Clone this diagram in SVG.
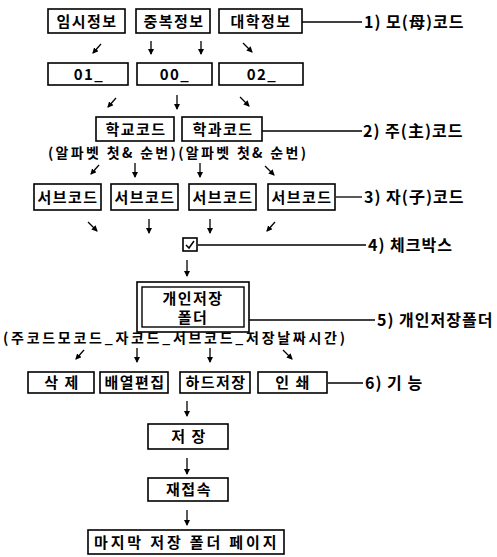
<svg xmlns="http://www.w3.org/2000/svg" width="497" height="557" viewBox="0 0 497 557">
<style>
.b{fill:#fff;stroke:#000;stroke-width:1.6}
.t{font-family:"Noto Sans CJK KR","Noto Sans",sans-serif;font-weight:bold;font-size:15px;letter-spacing:1.5px;fill:#000;text-anchor:middle}
.l{font-family:"Noto Sans CJK KR","Noto Sans",sans-serif;font-weight:bold;font-size:16px;letter-spacing:1px;fill:#000}
.s{font-family:"Noto Sans CJK KR","Noto Sans",sans-serif;font-weight:bold;font-size:14px;fill:#000}
.c{stroke:#000;stroke-width:1.3;fill:none}
.a{stroke:#000;stroke-width:1.3;fill:none;marker-end:url(#ah)}
</style>
<defs>
<marker id="ah" markerWidth="6" markerHeight="6" refX="5" refY="3" orient="auto" markerUnits="userSpaceOnUse">
<path d="M0,0 L6,3 L0,6 z" fill="#000"/>
</marker>
</defs>
<rect width="497" height="557" fill="#fff"/>
<g id="connectors">
<line class="c" x1="302" y1="22" x2="362" y2="22"/>
<line class="c" x1="262" y1="131" x2="362" y2="131"/>
<line class="c" x1="336" y1="197" x2="362" y2="197"/>
<line class="c" x1="198" y1="245" x2="366" y2="245"/>
<line class="c" x1="249" y1="320" x2="375" y2="320"/>
<line class="c" x1="328" y1="383" x2="363" y2="383"/>
<line class="a" x1="101" y1="44" x2="93" y2="53"/>
<line class="a" x1="151" y1="41" x2="151" y2="54"/>
<line class="a" x1="201" y1="41" x2="201" y2="54"/>
<line class="a" x1="243" y1="43" x2="252" y2="52"/>
<line class="a" x1="116" y1="98" x2="108" y2="107"/>
<line class="a" x1="177" y1="95" x2="177" y2="109"/>
<line class="a" x1="240" y1="97" x2="249" y2="106"/>
<line class="a" x1="99" y1="165" x2="91" y2="174"/>
<line class="a" x1="135" y1="163" x2="135" y2="177"/>
<line class="a" x1="200" y1="163" x2="200" y2="177"/>
<line class="a" x1="265" y1="166" x2="274" y2="175"/>
<line class="a" x1="88" y1="222" x2="97" y2="231"/>
<line class="a" x1="149" y1="219" x2="149" y2="233"/>
<line class="a" x1="210" y1="219" x2="210" y2="233"/>
<line class="a" x1="275" y1="222" x2="267" y2="231"/>
<line class="a" x1="187" y1="260" x2="187" y2="276"/>
<line class="a" x1="84" y1="350" x2="76" y2="359"/>
<line class="a" x1="137" y1="348" x2="137" y2="362"/>
<line class="a" x1="210" y1="348" x2="210" y2="362"/>
<line class="a" x1="283" y1="350" x2="292" y2="359"/>
<line class="a" x1="187" y1="401" x2="187" y2="416"/>
<line class="a" x1="187" y1="458" x2="187" y2="474"/>
<line class="a" x1="187" y1="510" x2="187" y2="525"/>
</g>
<g id="n-imsi"><rect class="b" x="48" y="9" width="77" height="24"/><text class="t" x="87" y="27">임시정보</text></g>
<g id="n-jungbok"><rect class="b" x="136" y="9" width="74" height="24"/><text class="t" x="174" y="27">중복정보</text></g>
<g id="n-daehak"><rect class="b" x="219" y="9" width="83" height="24"/><text class="t" x="261" y="27">대학정보</text></g>
<text class="l" x="364" y="28">1) 모(母)코드</text>
<g id="n-01"><rect class="b" x="48" y="63" width="80" height="22"/><text class="t" x="89" y="80">01_</text></g>
<g id="n-00"><rect class="b" x="137" y="63" width="75" height="22"/><text class="t" x="175" y="80">00_</text></g>
<g id="n-02"><rect class="b" x="219" y="63" width="84" height="22"/><text class="t" x="262" y="80">02_</text></g>
<g id="n-hakgyo"><rect class="b" x="96" y="117" width="78" height="24"/><text class="t" x="136" y="135">학교코드</text></g>
<g id="n-hakgwa"><rect class="b" x="182" y="117" width="80" height="24"/><text class="t" x="223" y="135">학과코드</text></g>
<text class="l" x="363" y="137">2) 주(主)코드</text>
<text class="s" x="48" y="158" textLength="258" lengthAdjust="spacing">(알파벳 첫&amp; 순번)(알파벳 첫&amp; 순번)</text>
<g id="n-sub1"><rect class="b" x="34" y="184" width="67" height="26"/><text class="t" x="68" y="203">서브코드</text></g>
<g id="n-sub2"><rect class="b" x="111" y="184" width="67" height="26"/><text class="t" x="145" y="203">서브코드</text></g>
<g id="n-sub3"><rect class="b" x="189" y="184" width="67" height="26"/><text class="t" x="223" y="203">서브코드</text></g>
<g id="n-sub4"><rect class="b" x="268" y="184" width="67" height="26"/><text class="t" x="302" y="203">서브코드</text></g>
<text class="l" x="364" y="203">3) 자(子)코드</text>
<g id="n-check"><rect class="b" x="183" y="238" width="14" height="13" stroke-width="1.2"/><path d="M186,245 L189,248 L194,241" fill="none" stroke="#000" stroke-width="1.5"/></g>
<text class="l" x="368" y="251">4) 체크박스</text>
<g id="n-folder"><rect class="b" x="137" y="282" width="112" height="50" stroke-width="2"/><rect x="142" y="287" width="102" height="40" fill="none" stroke="#000" stroke-width="1.4"/><text class="t" x="193" y="304" font-size="14">개인저장</text><text class="t" x="193" y="323" font-size="14">폴더</text></g>
<text class="l" x="377" y="326">5) 개인저장폴더</text>
<text class="s" x="3" y="343" textLength="342" lengthAdjust="spacing">(주코드모코드_자코드_서브코드_저장날짜시간)</text>
<g id="n-del"><rect class="b" x="28" y="372" width="66" height="21"/><text class="t" x="62" y="388">삭 제</text></g>
<g id="n-arr"><rect class="b" x="100" y="372" width="68" height="21"/><text class="t" x="135" y="388">배열편집</text></g>
<g id="n-hdd"><rect class="b" x="180" y="372" width="70" height="21"/><text class="t" x="216" y="388">하드저장</text></g>
<g id="n-print"><rect class="b" x="258" y="372" width="69" height="21"/><text class="t" x="293" y="388">인 쇄</text></g>
<text class="l" x="365" y="389">6) 기 능</text>
<g id="n-save"><rect class="b" x="148" y="424" width="80" height="25"/><text class="t" x="189" y="442">저 장</text></g>
<g id="n-reconn"><rect class="b" x="148" y="478" width="80" height="23"/><text class="t" x="189" y="495">재접속</text></g>
<g id="n-last"><rect class="b" x="88" y="530" width="196" height="24"/><text class="t" x="186" y="548" textLength="184" lengthAdjust="spacing" letter-spacing="0">마지막 저장 폴더 페이지</text></g>
</svg>
